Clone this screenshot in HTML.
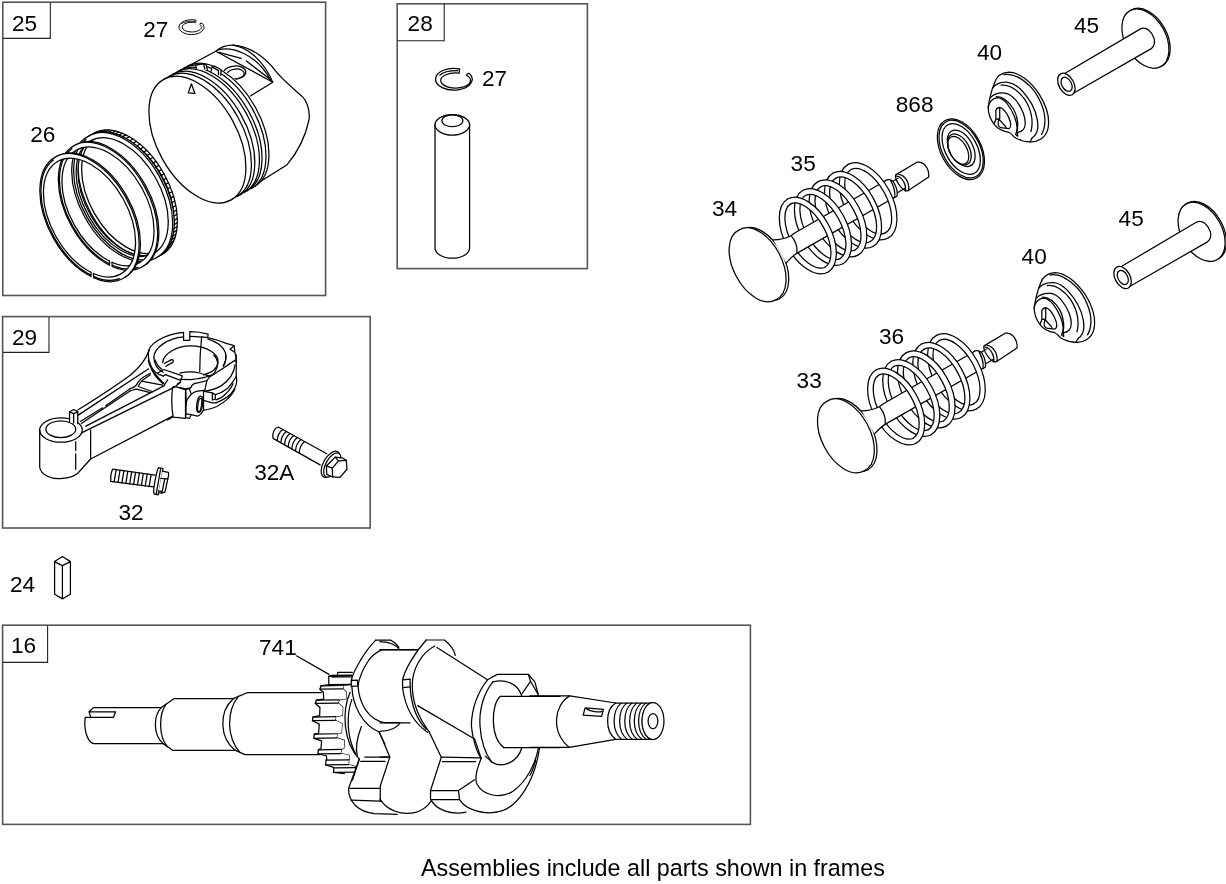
<!DOCTYPE html>
<html><head><meta charset="utf-8"><title>Parts diagram</title>
<style>
html,body{margin:0;padding:0;background:#fff;}
svg{display:block;will-change:transform}
text{font-family:"Liberation Sans",sans-serif;fill:#000}
.f{fill:none;stroke:#555;stroke-width:1.6}
.lb{fill:none;stroke:#222;stroke-width:1.1}
.p{fill:none;stroke:#000;stroke-width:1.25;stroke-linecap:round;stroke-linejoin:round}
.w{fill:#fff;stroke:#000;stroke-width:1.25;stroke-linecap:round;stroke-linejoin:round}
.t{font-size:22.6px}
</style></head><body>
<svg width="1226" height="884" viewBox="0 0 1226 884">
<rect width="1226" height="884" fill="#fff"/>
<!-- 00_frames.svg -->
<g id="frames">
<rect class="f" x="2.8" y="2.2" width="322.8" height="293.3"/>
<path class="lb" d="M50.3 2.5V38.4H3"/>
<rect class="f" x="397.2" y="3.8" width="190.2" height="264.8"/>
<path class="lb" d="M444.2 4V40.8H397.5"/>
<rect class="f" x="2.6" y="316.6" width="367.6" height="211.4"/>
<path class="lb" d="M49 317V352.4H3"/>
<rect class="f" x="2.6" y="625.2" width="747.8" height="199.2"/>
<path class="lb" d="M47.6 625.5V662.4H3"/>
</g>
<g id="labels" class="t">
<text x="12" y="31">25</text>
<text x="407.6" y="30.6">28</text>
<text x="12" y="345">29</text>
<text x="11" y="653">16</text>
<text x="10" y="592">24</text>
<text x="421" y="876" style="font-size:23.32px">Assemblies include all parts shown in frames</text>
</g>

<!-- 01_labels.svg -->
<g id="labels2" class="t">
<text x="143.2" y="36.8">27</text>
<text x="30.2" y="141.8">26</text>
<text x="482" y="86.2">27</text>
<text x="118.4" y="520">32</text>
<text x="254.2" y="480.2">32A</text>
<text x="259" y="654.8">741</text>
<text x="712" y="215.6">34</text>
<text x="790.6" y="171.4">35</text>
<text x="895.8" y="112">868</text>
<text x="977" y="60.4">40</text>
<text x="1074" y="33.2">45</text>
<text x="1118.6" y="226.4">45</text>
<text x="1021.6" y="263.6">40</text>
<text x="879" y="343.6">36</text>
<text x="796.6" y="388">33</text>
</g>

<!-- 10_f28.svg -->
<g id="f28" class="p">
<path d="M459.6 68.9A18.3 10.9 0 1 0 469.8 73.9Q468.2 72.5 466.5 75.3A14.9 7.6 0 1 1 459.1 73.1Z"/>
<path d="M439.8 75.1Q444.2 70.5 457.8 70.5"/>
<ellipse cx="452.3" cy="124.85" rx="17.3" ry="10.25"/>
<ellipse cx="452.4" cy="120.75" rx="10.5" ry="5.95"/>
<path d="M435 124.85V248A17.3 10.2 0 0 0 469.6 248V124.85"/>
</g>

<!-- 20_piston.svg -->
<g id="piston" class="p">
<path d="M231.1 199.8L287.1 164.7C297 153 305.5 136 309 120C310.5 108 305 99 302.8 97.1C296 91 283 80 275.7 71.1C266 58 250 46 233.1 45.1C226 45 220 47.5 215.8 51.2L163.7 79.4"/>
<path d="M215.8 51.2L272.8 82.2L250.4 96"/>
<path d="M233.1 45.1C246 47 262 58 272.8 82.2"/>
<path d="M217.8 49.9C230 46.5 256 52 270.8 80.7"/>
<path d="M218.9 52.4L241.2 58.4M246.3 61L270.4 79.4"/>
<ellipse cx="234.6" cy="72.6" rx="11.2" ry="6.6" transform="rotate(-4 234.6 72.6)"/>
<ellipse cx="235.6" cy="74" rx="8.6" ry="5"  transform="rotate(-4 235.6 74)"/>
<ellipse cx="221.6" cy="126.1" rx="69" ry="40" transform="rotate(60.8 221.6 126.1)" style="fill:#fff;stroke:none"/>
<path d="M169.8 76.0A69 40 60.8 0 1 237.2 196.4"/>
<path d="M172.6 74.4A69 40 60.8 0 1 240.0 194.9"/>
<path d="M177.3 71.8A69 40 60.8 0 1 244.6 192.3"/>
<path d="M179.9 70.3A69 40 60.8 0 1 247.2 190.8"/>
<path d="M183.8 68.1A69 40 60.8 0 1 251.1 188.6"/>
<path d="M187.9 65.9A69 40 60.8 0 1 255.2 186.3"/>
<ellipse class="w" cx="197.4" cy="139.6" rx="69" ry="40" transform="rotate(60.8 197.4 139.6)"/>
<path d="M191.4 83.8L188.3 92.9L194.9 93.4Z"/>
<path class="w" d="M196.5 69.2L195.6 65.2L203.6 63.8L206.1 64.6L207.4 70.2"/>
<path d="M203.6 63.8L204.8 69"/>
<path class="w" d="M211 71.6L212.2 66.9L214.8 66.2L220.9 69.7V75.4"/>
<path d="M212.2 66.9L218.4 70.6L218.6 74.6"/>
</g>
<!-- 21_rings.svg -->
<g id="rings" class="p">
<path class="w" fill-rule="evenodd" d="M161.6 254.7A69.5 41.5 60.8 1 1 93.8 133.3A69.5 41.5 60.8 1 1 161.6 254.7ZM159.2 250.3A64.5 38.5 60.8 1 1 96.2 137.7A64.5 38.5 60.8 1 1 159.2 250.3Z"/>
<path class="w" fill-rule="evenodd" d="M158.6 256.4A69.5 41.5 60.8 1 1 90.7 135.0A69.5 41.5 60.8 1 1 158.6 256.4ZM156.1 252.0A64.5 38.5 60.8 1 1 93.2 139.4A64.5 38.5 60.8 1 1 156.1 252.0Z"/>
<path d="M93.3 133.8L96.4 132.1M96.2 132.8L99.2 131.1M99.2 132.1L102.2 130.4M102.3 131.8L105.3 130.1M105.5 131.8L108.5 130.1M108.8 132.1L111.9 130.4M112.2 132.8L115.3 131.0M115.7 133.7L118.7 132.0M119.2 135.0L122.3 133.3M122.7 136.6L125.8 134.9M126.3 138.5L129.3 136.8M129.8 140.7L132.9 139.0M133.3 143.2L136.4 141.4M136.8 145.9L139.9 144.2M140.2 148.9L143.3 147.2M143.5 152.1L146.6 150.4M146.8 155.6L149.8 153.9M149.9 159.2L153.0 157.5M152.9 163.1L155.9 161.4M155.7 167.1L158.8 165.4M158.4 171.3L161.5 169.6M160.9 175.6L164.0 173.9M163.3 180.0L166.3 178.3M165.4 184.4L168.4 182.7M167.3 189.0L170.4 187.3M169.0 193.5L172.1 191.8M170.5 198.1L173.5 196.4M171.7 202.7L174.8 201.0M172.7 207.2L175.8 205.5M173.5 211.7L176.5 210.0M174.0 216.0L177.0 214.3M174.2 220.3L177.3 218.6M174.2 224.5L177.3 222.8M174.0 228.5L177.0 226.8M173.5 232.3L176.5 230.6M172.7 236.0L175.8 234.3M171.7 239.4L174.8 237.7M170.5 242.7L173.5 241.0M169.0 245.7L172.0 243.9M167.3 248.4L170.3 246.7M165.3 250.8L168.4 249.1M163.2 253.0L166.3 251.3M160.9 254.9L163.9 253.2"/>
<path class="w" fill-rule="evenodd" d="M156.1 257.7A69.5 41.5 60.8 1 1 88.3 136.4A69.5 41.5 60.8 1 1 156.1 257.7ZM153.7 253.4A64.5 38.5 60.8 1 1 90.7 140.8A64.5 38.5 60.8 1 1 153.7 253.4Z"/>
<path d="M152.3 258.1A68.2 40.6 60.8 0 1 86.0 139.5"/>
<path d="M76.2 144.5A69.5 41.5 60.8 0 1 144.0 265.8"/>
<path class="w" fill-rule="evenodd" d="M141.9 267.0A69.5 41.5 60.8 1 1 74.1 145.6A69.5 41.5 60.8 1 1 141.9 267.0ZM139.5 262.6A64.5 38.5 60.8 1 1 76.5 150.0A64.5 38.5 60.8 1 1 139.5 262.6Z"/>
<path d="M138.1 267.3A68.2 40.6 60.8 0 1 71.8 148.7"/>
<path style="fill:#fff;stroke:none" d="M112.0 267.6L109.4 266.5L109.8 259.9L112.0 260.9Z"/>
<path d="M112.2 266.5L111.9 262.1"/>
<path d="M109.6 265.3L109.5 261.0"/>
<path d="M57.7 155.8A69.5 41.5 60.8 0 1 125.5 277.1"/>
<path class="w" fill-rule="evenodd" d="M123.4 278.3A69.5 41.5 60.8 1 1 55.6 156.9A69.5 41.5 60.8 1 1 123.4 278.3ZM121.0 273.9A64.5 38.5 60.8 1 1 58.0 161.3A64.5 38.5 60.8 1 1 121.0 273.9Z"/>
<path d="M119.6 278.6A68.2 40.6 60.8 0 1 53.3 160.0"/>
<path style="fill:#fff;stroke:none" d="M93.5 278.9L90.9 277.8L91.3 271.2L93.5 272.2Z"/>
<path d="M93.7 277.8L93.4 273.4"/>
<path d="M91.1 276.6L91.0 272.3"/>
</g>
<!-- 22_clip.svg -->
<g id="clip25" class="p" style="stroke-width:1">
<path d="M195.6 20.1A12.5 7.45 0 1 0 202.3 23.4Q201.2 22.3 199.6 24.2A9.6 4.9 0 1 1 195.3 22.5Z"/>
<path d="M181.3 23.6Q185 21 194.8 21.3" style="stroke-width:.8"/>
</g>

<!-- 30_rod.svg -->
<g id="rod" class="p">
<!-- small end + beam, coords from zoom origin(30,320) scale 5.359 -->
<g transform="translate(30 320) scale(0.18660)" style="stroke-width:6.7">
<path style="fill:#fff;stroke:none" d="M52,590V790C60,830 110,852 160,850C215,848 255,830 275,800L325,745L765,515L762,360L640,200C560,250 400,380 256,480L212,492C120,500 55,540 52,590Z"/>
<path d="M52,590V790C60,830 110,852 160,850C215,848 255,830 275,800L325,745L765,515"/>
<ellipse cx="166" cy="590" rx="114" ry="65"/>
<ellipse cx="165" cy="585" rx="80" ry="45"/>
<path d="M245,652V700M245,718V800M325,590V745"/>
<path class="w" style="stroke-width:6.7" d="M212,548V492L234,480L256,492V556"/>
<path d="M212,492L234,502L256,492M234,502V552"/>
</g>
<!-- beam, coords from zoom origin(65,350) scale 9.825 -->
<g transform="translate(65 350) scale(0.10178)" style="stroke-width:12.3">
<path d="M125,590C300,480 520,340 650,240C740,165 800,80 828,0"/>
<path d="M130,640L822,185"/>
<path d="M150,702L370,568M400,547L639,380"/>
<path d="M160,722L639,402"/>
<path d="M205,748L972,352L1009,292"/>
<path d="M168,812L1075,365L1132,320"/>
</g>
<!-- junction, coords from zoom origin(130,360) scale 14.73 -->
<g transform="translate(130 360) scale(0.067873)" style="stroke-width:18.4">
<path d="M0,420C50,410 80,395 100,360C115,320 130,300 200,250L300,195"/>
<path d="M120,390C135,350 150,325 190,295L300,218M120,390L335,468M170,312L480,370"/>
<path d="M0,455C40,445 70,430 95,430L300,482"/>
<path d="M270,0C275,80 330,180 500,345M300,90C330,190 400,280 490,352M370,0C390,60 430,110 470,135"/>
<path d="M410,190L500,140L770,235L740,330L700,350M440,215L490,240L520,215M520,215L745,300"/>
<path d="M640,390L820,425L884,415M630,400C610,500 610,700 635,840M820,430C830,550 830,700 820,840M550,884L635,840L820,860"/>
</g>
<!-- big end, coords from zoom origin(140,325) scale 8.838 -->
<g transform="translate(140 325) scale(0.11315)" style="stroke-width:11.0">
<path d="M72,250C75,170 200,85 385,65V135H440V58C500,58 560,68 602,80L598,112C660,125 720,145 762,162L832,182L838,240C848,270 852,300 850,330"/>
<path d="M830,185L796,215L836,240"/>
<path d="M122,285C125,200 250,115 385,105M440,100C480,100 520,104 545,108M548,104L598,112M600,125C680,150 750,200 760,270C762,310 750,340 735,362"/>
<path d="M72,250C72,330 110,410 170,440"/>
<path d="M122,285C125,350 160,395 205,418"/>
<path d="M200,330C210,250 330,185 440,185C600,185 700,260 690,330C685,380 640,420 560,440"/>
<path d="M545,105C535,200 528,300 528,412"/>
<path d="M215,340L278,306Q300,305 292,328L228,365"/>
</g>
<!-- cap, coords from zoom origin(180,355) scale 13.6 -->
<g transform="translate(180 355) scale(0.07353)" style="stroke-width:17.0">
<path d="M0,245C80,228 200,230 265,245C310,255 350,272 400,290"/>
<path d="M460,0C520,60 530,150 470,240C430,290 300,318 150,335L0,330"/>
<path d="M620,0C628,60 615,110 590,150"/>
<path d="M755,70C640,140 520,230 400,300L365,350L340,470L320,500"/>
<path d="M150,440C160,400 200,385 240,380L365,350"/>
<path d="M0,450L75,470L130,455L150,440M130,455C135,490 140,510 150,520M75,470V850M75,850L130,862L150,812"/>
<path d="M80,660C100,580 150,520 220,495L320,480V740C310,780 270,825 240,830L150,810L80,800"/>
<ellipse cx="268" cy="670" rx="40" ry="112" transform="rotate(8 268 670)"/>
<ellipse cx="268" cy="680" rx="24" ry="92" transform="rotate(8 268 680)"/>
<path d="M765,0V290C770,320 772,340 770,360"/>
<path d="M750,130C735,250 660,350 560,420C480,465 400,485 330,490"/>
<path d="M765,290C740,340 700,400 640,460C590,500 530,530 480,540"/>
<path d="M770,360C770,400 740,470 690,530C620,600 540,630 490,650"/>
<path d="M720,390C700,440 640,520 560,580L490,610"/>
<path d="M745,470C700,560 620,640 500,700C440,725 380,745 320,750"/>
<path d="M330,495L440,515L480,540V600L440,612V530M330,620L440,650L490,650"/>
</g>
</g>

<!-- 31_bolts.svg -->
<g id="bolts" class="p">
<g transform="translate(105 460) scale(0.05711)" style="stroke-width:21.9">
<path d="M130,160L880,265M100,375L850,470M130,160C105,220 92,300 100,375"/>
<path d="M195,170L160,383M263,180L228,392M331,189L296,402M399,199L364,412M467,208L432,421M535,218L500,430M603,228L568,440M671,237L636,450M739,247L704,459M807,256L772,468"/>
<path class="w" style="stroke-width:21.9" d="M935,135L1015,150C1000,260 965,480 930,610L862,596C845,560 850,500 870,400C890,280 910,180 935,135Z"/>
<path d="M975,145C955,280 915,480 895,603"/>
<path class="w" style="stroke-width:21.9" d="M1003,195L1110,215L1115,262L1050,562L990,582L936,570"/>
<path d="M975,322L1100,332M1045,330L1000,565M936,540L990,550L990,582"/>
</g>
<g transform="translate(265 420) scale(0.07353)" style="stroke-width:17.0">
<path d="M840,460L180,95C130,110 92,180 110,250L750,610"/>
<path d="M240,128Q172,178 165,281M290,156Q222,206 215,309M340,183Q272,234 265,337M390,211Q322,262 315,365M440,238Q372,290 365,393M490,266Q422,318 415,421M540,294Q472,346 465,449"/>
<ellipse class="w" style="stroke-width:17.0" cx="893" cy="603" rx="196" ry="100" transform="rotate(-61 893 603)"/>
<ellipse class="w" style="stroke-width:17.0" cx="915" cy="612" rx="182" ry="88" transform="rotate(-61 915 612)"/>
<path class="w" style="stroke-width:17.0" d="M835,625L955,505L1060,520L1105,548L1115,670L1020,780L920,775L840,740Z"/>
<path d="M1105,548L1000,557L955,505M1000,557L915,655L835,625M915,655L920,775"/>
</g>
</g>
<!-- 32_key.svg -->
<g id="key" class="p">
<path d="M62.4 556.5L54.6 561.6V594.2L62.4 598.9L70.4 594.2V561.6ZM54.6 561.6L62.4 565.6L70.4 561.6M62.4 565.6V598.9"/>
</g>

<!-- 40_crank_shaft.svg -->
<g id="crank" class="p">
<path d="M296.4 655.8L329 674.4"/>
<g transform="translate(70 680) scale(0.21209)" style="stroke-width:5.9">
<path d="M430,130H110L90,150L98,176H205L215,150H90M98,176H72C64,230 80,290 110,300H440"/>
<path d="M430,130C392,170 392,262 440,300M452,115C418,165 418,265 458,313"/>
<path d="M430,130L490,88H770M440,300L485,332H780"/>
<path d="M770,88C700,150 705,275 780,332M795,76C735,150 740,270 800,340"/>
<path d="M770,88L835,60H1185M780,332L825,352H1175"/>
</g>
<g transform="translate(530 680) scale(0.12235)" style="stroke-width:10.2">
<path d="M0,130H325L700,188H1000M0,550H320L700,485H1000"/>
<path d="M325,130C200,200 165,420 320,550"/>
<path d="M700,188C615,240 610,420 700,485"/>
<path d="M745,189C670,250 665,420 750,486M790,189C715,250 710,420 795,486M832,189C757,250 752,420 837,486M872,189C797,250 792,420 877,486M910,189C835,250 830,420 915,486M945,189C870,250 865,420 950,486M975,189C900,250 895,420 980,486"/>
<ellipse class="w" style="stroke-width:10.2" cx="1005" cy="336" rx="90" ry="151"/>
<ellipse cx="1005" cy="336" rx="40" ry="62"/>
<path d="M450,228L600,240L585,298L435,288ZM462,236C500,262 560,264 592,256"/>
</g>
</g>
<!-- 41_crank_web.svg -->
<g id="crankweb" class="p">
<g transform="translate(305 660) scale(0.13582)" style="stroke-width:9.2">
<clipPath id="gclip"><path d="M0,0H352V150L334,236C272,380 282,600 400,730L350,884H0Z"/></clipPath>
<g clip-path="url(#gclip)">
<path d="M343,117L343,179L286,187L278,212L303,235L306,285L251,293L244,317L278,347L276,407L226,417L223,444L273,469L268,537L236,543L233,574L290,592L286,649L266,658L263,689L326,702L328,729L323,735L320,770L378,787L380,792L378,825L458,833"/>
<path style="fill:#fff;stroke:none" d="M175,120L175,182L118,190L110,215L135,238L138,288L83,296L76,320L110,350L108,410L58,420L55,447L105,472L100,540L68,546L65,577L122,595L118,652L98,661L95,692L158,705L160,732L155,738L152,773L210,790L212,795L210,828L290,836L458,833L458,833L378,825L380,792L378,787L320,770L323,735L328,729L326,702L263,689L266,658L286,649L290,592L233,574L236,543L268,537L273,469L223,444L226,417L276,407L278,347L244,317L251,293L306,285L303,235L278,212L286,187L343,179L343,117Z"/>
<path d="M240,118V92H352"/>
<path style="fill:#666;stroke:none" d="M195,114L342,111L342,131L195,133Z"/>
<path d="M175,120L343,117M175,182L343,179M118,190L286,187M110,215L278,212M83,296L251,293M76,320L244,317M58,420L226,417M55,447L223,444M68,546L236,543M65,577L233,574M98,661L266,658M95,692L263,689M155,738L323,735M152,773L320,770M212,795L380,792M210,828L378,825"/>
<path d="M343,117L343,179L286,187L278,212L303,235L306,285L251,293L244,317L278,347L276,407L226,417L223,444L273,469L268,537L236,543L233,574L290,592L286,649L266,658L263,689L326,702L328,729L323,735L320,770L378,787L380,792L378,825L458,833" style="opacity:0"/>
<path d="M175,120L175,182L118,190L110,215L135,238L138,288L83,296L76,320L110,350L108,410L58,420L55,447L105,472L100,540L68,546L65,577L122,595L118,652L98,661L95,692L158,705L160,732L155,738L152,773L210,790L212,795L210,828L290,836"/>
<path d="M175,120L195,114L345,112"/>
</g>
<path d="M332,238C270,380 280,600 400,730"/>
<path d="M345,290C305,400 305,560 372,690"/>
<path d="M410,0C380,50 350,110 340,150V195M340,150L385,148L390,190L345,195"/>
<path d="M470,0C430,60 400,120 390,190"/>
<path d="M345,195C350,330 420,480 545,530L589,620"/>
<path d="M390,190C400,330 470,440 589,462"/>
<path d="M415,490C385,570 370,650 385,705"/>
<path d="M440,715H589M410,747H589"/>
<path d="M400,730L350,884"/>
</g>
<g transform="translate(300 630) scale(0.22614)" style="stroke-width:5.5">
<path d="M335,45H400C420,55 430,65 437,78"/>
<path d="M335,45C310,70 285,105 268,133"/>
<path d="M360,88C335,100 318,115 304,133"/>
<path d="M360,88H520"/>
<path d="M376,410H440"/>
<path d="M350,450L397,562L355,690V758"/>
<path d="M262,571L215,700C212,760 260,805 330,812L430,815"/>
<path d="M220,700H355M225,752L355,757"/>
<path d="M376,562H397"/>
</g>
<g transform="translate(380 640) scale(0.21505)" style="stroke-width:5.8">
<path d="M215,0C160,60 115,140 105,185V222M105,185L140,182V218L105,222"/>
<path d="M105,222C115,300 150,380 222,430"/>
<path d="M255,28C190,60 150,140 150,210C150,300 185,370 230,428"/>
<path d="M140,218C145,300 170,370 215,415"/>
<path d="M215,0H300C325,20 345,45 350,72"/>
<path d="M265,35L500,185M175,305L440,460L470,550"/>
<path d="M0,45H170M0,385H140M0,8C50,10 80,28 90,45M0,425C50,425 85,402 95,385"/>
<path d="M230,430L285,545L235,700V740C260,790 330,815 400,800"/>
<path d="M285,545L470,548M290,565H445M235,700H365M240,742H368"/>
<path d="M365,700L440,650M365,700L370,742C400,790 480,812 540,800"/>
<path d="M0,545H45M0,740C30,790 100,820 170,800C200,790 225,770 240,745"/>
<path d="M500,185L545,160H690L720,195L735,250V262"/>
<path d="M500,185C455,240 425,320 425,400C430,460 450,520 470,550"/>
<path d="M525,195C480,250 460,330 465,400C470,470 490,530 520,568"/>
<path d="M690,160L700,192L660,250M700,192L735,252"/>
<path d="M525,195C580,180 640,200 660,262"/>
<path d="M560,262C515,300 512,450 575,500"/>
<path d="M660,500C640,570 570,598 520,568L490,540"/>
<path d="M470,552C450,600 440,650 452,672C480,722 560,742 620,702C680,660 722,580 737,500"/>
<path d="M540,800C640,790 722,650 742,500"/>
<path d="M724,558C716,590 708,612 697,630"/>
<path d="M560,262H837M575,500H837"/>
</g>
</g>
<!-- 50_valves.svg -->
<g id="valve34" class="p">
<path class="w" d="M779.4 298.9A39.44 23.31 62.3 1 1 742.8 229.0A39.44 23.31 62.3 1 1 779.4 298.9Z"/>
<path class="w" d="M775.9 299.7A39.44 23.31 62.3 1 1 739.3 229.9A39.44 23.31 62.3 1 1 775.9 299.7Z"/>
<path style="fill:#fff;stroke:none" d="M888.1 238.0A41.82 23.66 61.5 0 1 848.2 164.4L851.0 169.5A36.04 18.23 61.5 0 0 885.4 232.9Z"/>
<path d="M888.1 238.0A41.82 23.66 61.5 0 1 848.2 164.4M851.0 169.5A36.04 18.23 61.5 0 0 885.4 232.9"/>
<path style="fill:#fff;stroke:none" d="M873.0 246.5A41.82 23.66 61.5 0 1 833.1 173.0L835.9 178.1A36.04 18.23 61.5 0 0 870.3 241.5Z"/>
<path d="M873.0 246.5A41.82 23.66 61.5 0 1 833.1 173.0M835.9 178.1A36.04 18.23 61.5 0 0 870.3 241.5"/>
<path style="fill:#fff;stroke:none" d="M858.0 255.1A41.82 23.66 61.5 0 1 818.0 181.6L820.8 186.7A36.04 18.23 61.5 0 0 855.2 250.0Z"/>
<path d="M858.0 255.1A41.82 23.66 61.5 0 1 818.0 181.6M820.8 186.7A36.04 18.23 61.5 0 0 855.2 250.0"/>
<path style="fill:#fff;stroke:none" d="M842.9 263.7A41.82 23.66 61.5 0 1 803.0 190.2L805.7 195.3A36.04 18.23 61.5 0 0 840.1 258.6Z"/>
<path d="M842.9 263.7A41.82 23.66 61.5 0 1 803.0 190.2M805.7 195.3A36.04 18.23 61.5 0 0 840.1 258.6"/>
<path style="fill:#fff;stroke:none" d="M827.8 272.3A41.82 23.66 61.5 0 1 787.9 198.8L790.7 203.9A36.04 18.23 61.5 0 0 825.1 267.2Z"/>
<path d="M827.8 272.3A41.82 23.66 61.5 0 1 787.9 198.8M790.7 203.9A36.04 18.23 61.5 0 0 825.1 267.2"/>
<path style="fill:#fff;stroke:none" d="M773.4 239.9C780.2 239.9 785.5 238.5 791.3 235.5L795.1 232.7L885.2 181.0L894.3 197.5L797.2 253.1C793.0 255.5 789.2 259.6 786.2 262.9Z"/>
<path d="M773.4 239.9C780.2 239.9 785.5 238.5 791.3 235.5L795.1 232.7L885.2 181.0M894.3 197.5L797.2 253.1C793.0 255.5 789.2 259.6 786.2 262.9"/>
<path d="M791.3 235.9C795.5 241.1 797.6 247.3 796.9 252.5"/>
<path class="w" d="M895.7 174.9L916.9 162.2C923.3 160.9 929.6 168.1 928.7 177.1L907.9 190.7C903.3 192.5 894.3 179.9 895.7 174.9Z"/>
<path d="M898.8 174.3C905.2 175.3 909.7 182.6 908.6 190.4"/>
<path d="M896.6 176.2C902.4 177.1 906.5 184.4 905.3 190.9"/>
<path d="M892.9 181.2L897.9 178.2M897.9 192.5L904.7 188.5"/>
<path style="fill:#fff;stroke:none" d="M885.2 180.8C887.1 178.8 891.1 179.4 893.4 181.7C896.1 186.2 897.9 191.6 897.0 196.2L894.3 197.8L885.2 180.8Z"/>
<path d="M885.2 180.8C887.1 178.8 891.1 179.4 893.4 181.7C896.1 186.2 897.9 191.6 897.0 196.2L894.3 197.8"/>
<path d="M890.7 180.6C893.8 186.2 895.4 191.6 894.8 197.4"/>
<path style="fill:#fff;stroke:none" d="M848.2 164.4A41.82 23.66 61.5 0 1 888.1 238.0L885.4 232.9A36.04 18.23 61.5 0 0 851.0 169.5Z"/>
<path d="M848.2 164.4A41.82 23.66 61.5 0 1 888.1 238.0M885.4 232.9A36.04 18.23 61.5 0 0 851.0 169.5"/>
<path style="fill:#fff;stroke:none" d="M833.1 173.0A41.82 23.66 61.5 0 1 873.0 246.5L870.3 241.5A36.04 18.23 61.5 0 0 835.9 178.1Z"/>
<path d="M833.1 173.0A41.82 23.66 61.5 0 1 873.0 246.5M870.3 241.5A36.04 18.23 61.5 0 0 835.9 178.1"/>
<path style="fill:#fff;stroke:none" d="M818.0 181.6A41.82 23.66 61.5 0 1 858.0 255.1L855.2 250.0A36.04 18.23 61.5 0 0 820.8 186.7Z"/>
<path d="M818.0 181.6A41.82 23.66 61.5 0 1 858.0 255.1M855.2 250.0A36.04 18.23 61.5 0 0 820.8 186.7"/>
<path style="fill:#fff;stroke:none" d="M803.0 190.2A41.82 23.66 61.5 0 1 842.9 263.7L840.1 258.6A36.04 18.23 61.5 0 0 805.7 195.3Z"/>
<path d="M803.0 190.2A41.82 23.66 61.5 0 1 842.9 263.7M840.1 258.6A36.04 18.23 61.5 0 0 805.7 195.3"/>
<path style="fill:#fff;stroke:none" d="M787.9 198.8A41.82 23.66 61.5 0 1 827.8 272.3L825.1 267.2A36.04 18.23 61.5 0 0 790.7 203.9Z"/>
<path d="M787.9 198.8A41.82 23.66 61.5 0 1 827.8 272.3M825.1 267.2A36.04 18.23 61.5 0 0 790.7 203.9"/>
</g>
<g id="valve33" class="p">
<path class="w" d="M867.7 469.9A39.44 23.31 62.3 1 1 831.1 400.0A39.44 23.31 62.3 1 1 867.7 469.9Z"/>
<path class="w" d="M864.2 470.7A39.44 23.31 62.3 1 1 827.6 400.9A39.44 23.31 62.3 1 1 864.2 470.7Z"/>
<path style="fill:#fff;stroke:none" d="M976.4 409.0A41.82 23.66 61.5 0 1 936.5 335.4L939.3 340.5A36.04 18.23 61.5 0 0 973.7 403.9Z"/>
<path d="M976.4 409.0A41.82 23.66 61.5 0 1 936.5 335.4M939.3 340.5A36.04 18.23 61.5 0 0 973.7 403.9"/>
<path style="fill:#fff;stroke:none" d="M961.3 417.5A41.82 23.66 61.5 0 1 921.4 344.0L924.2 349.1A36.04 18.23 61.5 0 0 958.6 412.5Z"/>
<path d="M961.3 417.5A41.82 23.66 61.5 0 1 921.4 344.0M924.2 349.1A36.04 18.23 61.5 0 0 958.6 412.5"/>
<path style="fill:#fff;stroke:none" d="M946.3 426.1A41.82 23.66 61.5 0 1 906.3 352.6L909.1 357.7A36.04 18.23 61.5 0 0 943.5 421.0Z"/>
<path d="M946.3 426.1A41.82 23.66 61.5 0 1 906.3 352.6M909.1 357.7A36.04 18.23 61.5 0 0 943.5 421.0"/>
<path style="fill:#fff;stroke:none" d="M931.2 434.7A41.82 23.66 61.5 0 1 891.3 361.2L894.0 366.3A36.04 18.23 61.5 0 0 928.4 429.6Z"/>
<path d="M931.2 434.7A41.82 23.66 61.5 0 1 891.3 361.2M894.0 366.3A36.04 18.23 61.5 0 0 928.4 429.6"/>
<path style="fill:#fff;stroke:none" d="M916.1 443.3A41.82 23.66 61.5 0 1 876.2 369.8L879.0 374.9A36.04 18.23 61.5 0 0 913.4 438.2Z"/>
<path d="M916.1 443.3A41.82 23.66 61.5 0 1 876.2 369.8M879.0 374.9A36.04 18.23 61.5 0 0 913.4 438.2"/>
<path style="fill:#fff;stroke:none" d="M861.7 410.9C868.5 410.9 873.8 409.5 879.6 406.5L883.4 403.7L973.5 352.0L982.6 368.5L885.5 424.1C881.3 426.5 877.5 430.6 874.5 433.9Z"/>
<path d="M861.7 410.9C868.5 410.9 873.8 409.5 879.6 406.5L883.4 403.7L973.5 352.0M982.6 368.5L885.5 424.1C881.3 426.5 877.5 430.6 874.5 433.9"/>
<path d="M879.6 406.9C883.8 412.1 885.9 418.3 885.2 423.5"/>
<path class="w" d="M984.0 345.9L1005.2 333.2C1011.6 331.9 1017.9 339.1 1017.0 348.1L996.2 361.7C991.6 363.5 982.6 350.9 984.0 345.9Z"/>
<path d="M987.1 345.3C993.5 346.3 998.0 353.6 996.9 361.4"/>
<path d="M984.9 347.2C990.7 348.1 994.8 355.4 993.6 361.9"/>
<path d="M981.2 352.2L986.2 349.2M986.2 363.5L993.0 359.5"/>
<path style="fill:#fff;stroke:none" d="M973.5 351.8C975.4 349.8 979.4 350.4 981.7 352.7C984.4 357.2 986.2 362.6 985.3 367.2L982.6 368.8L973.5 351.8Z"/>
<path d="M973.5 351.8C975.4 349.8 979.4 350.4 981.7 352.7C984.4 357.2 986.2 362.6 985.3 367.2L982.6 368.8"/>
<path d="M979.0 351.6C982.1 357.2 983.7 362.6 983.1 368.4"/>
<path style="fill:#fff;stroke:none" d="M936.5 335.4A41.82 23.66 61.5 0 1 976.4 409.0L973.7 403.9A36.04 18.23 61.5 0 0 939.3 340.5Z"/>
<path d="M936.5 335.4A41.82 23.66 61.5 0 1 976.4 409.0M973.7 403.9A36.04 18.23 61.5 0 0 939.3 340.5"/>
<path style="fill:#fff;stroke:none" d="M921.4 344.0A41.82 23.66 61.5 0 1 961.3 417.5L958.6 412.5A36.04 18.23 61.5 0 0 924.2 349.1Z"/>
<path d="M921.4 344.0A41.82 23.66 61.5 0 1 961.3 417.5M958.6 412.5A36.04 18.23 61.5 0 0 924.2 349.1"/>
<path style="fill:#fff;stroke:none" d="M906.3 352.6A41.82 23.66 61.5 0 1 946.3 426.1L943.5 421.0A36.04 18.23 61.5 0 0 909.1 357.7Z"/>
<path d="M906.3 352.6A41.82 23.66 61.5 0 1 946.3 426.1M943.5 421.0A36.04 18.23 61.5 0 0 909.1 357.7"/>
<path style="fill:#fff;stroke:none" d="M891.3 361.2A41.82 23.66 61.5 0 1 931.2 434.7L928.4 429.6A36.04 18.23 61.5 0 0 894.0 366.3Z"/>
<path d="M891.3 361.2A41.82 23.66 61.5 0 1 931.2 434.7M928.4 429.6A36.04 18.23 61.5 0 0 894.0 366.3"/>
<path style="fill:#fff;stroke:none" d="M876.2 369.8A41.82 23.66 61.5 0 1 916.1 443.3L913.4 438.2A36.04 18.23 61.5 0 0 879.0 374.9Z"/>
<path d="M876.2 369.8A41.82 23.66 61.5 0 1 916.1 443.3M913.4 438.2A36.04 18.23 61.5 0 0 879.0 374.9"/>
</g>
<!-- 51_small.svg -->
<g id="small" class="p">
<ellipse class="w" cx="960.9" cy="149.2" rx="32.8" ry="20.0" transform="rotate(61.3 960.9 149.2)"/>
<ellipse cx="961.1" cy="149.1" rx="31.2" ry="18.6" transform="rotate(61.3 961.1 149.1)"/>
<ellipse cx="961.2" cy="149.0" rx="27.6" ry="15.8" transform="rotate(61.3 961.2 149.0)"/>
<ellipse cx="961.2" cy="148.3" rx="19.8" ry="11.6" transform="rotate(61.3 961.2 148.3)"/>
<ellipse class="w" cx="959.4" cy="149.5" rx="16.8" ry="9.9" transform="rotate(61.3 959.4 149.5)"/>
<ellipse cx="958.3" cy="150.3" rx="15.2" ry="8.6" transform="rotate(61.3 958.3 150.3)"/>
<g transform="translate(980 65) scale(0.09615)" style="stroke-width:13.0">
<path style="fill:#fff;stroke:none" d="M150,190C170,120 220,80 300,75C400,75 520,160 620,310C700,440 730,560 705,670C680,760 600,805 520,800C480,797 440,790 420,780C400,775 380,765 360,752C345,740 330,715 300,700C220,685 180,660 150,620C110,570 85,500 85,440C100,340 120,260 150,190Z"/>
<path d="M150,190C170,120 220,80 300,75C400,75 520,160 620,310C700,440 730,560 705,670C680,760 600,805 520,800C480,797 440,790 420,780"/>
<path d="M250,100C330,85 430,130 530,230C620,330 680,480 675,590C672,650 660,690 640,722"/>
<path d="M130,240C160,200 220,175 290,180C380,190 470,290 540,410C600,520 615,640 590,700C575,735 560,750 540,762"/>
<path d="M220,210C300,200 390,260 460,350C530,450 560,580 530,692"/>
<path d="M110,340C140,305 200,285 260,292C340,305 410,400 450,500C475,570 475,640 450,672C435,690 410,698 390,702"/>
<path d="M170,330C230,330 300,380 350,460C390,530 405,640 380,702"/>
<path d="M85,440C90,390 130,345 180,340C250,340 320,440 360,540C390,620 390,690 370,722"/>
<path d="M150,190C120,260 100,340 85,440C85,500 110,570 150,620C180,660 220,685 300,700C330,715 345,740 360,752C380,765 400,775 420,780"/>
<path d="M165,470C175,450 190,440 205,440C250,450 300,530 315,590C325,630 315,655 300,662L215,652C195,640 185,620 190,600L195,560L165,562ZM205,445V560M195,560L270,645M165,562L150,605"/>
<path d="M370,722L392,740L390,702M540,762L520,800"/>
</g>
<g transform="translate(1026 265.4) scale(0.09615)" style="stroke-width:13.0">
<path style="fill:#fff;stroke:none" d="M150,190C170,120 220,80 300,75C400,75 520,160 620,310C700,440 730,560 705,670C680,760 600,805 520,800C480,797 440,790 420,780C400,775 380,765 360,752C345,740 330,715 300,700C220,685 180,660 150,620C110,570 85,500 85,440C100,340 120,260 150,190Z"/>
<path d="M150,190C170,120 220,80 300,75C400,75 520,160 620,310C700,440 730,560 705,670C680,760 600,805 520,800C480,797 440,790 420,780"/>
<path d="M250,100C330,85 430,130 530,230C620,330 680,480 675,590C672,650 660,690 640,722"/>
<path d="M130,240C160,200 220,175 290,180C380,190 470,290 540,410C600,520 615,640 590,700C575,735 560,750 540,762"/>
<path d="M220,210C300,200 390,260 460,350C530,450 560,580 530,692"/>
<path d="M110,340C140,305 200,285 260,292C340,305 410,400 450,500C475,570 475,640 450,672C435,690 410,698 390,702"/>
<path d="M170,330C230,330 300,380 350,460C390,530 405,640 380,702"/>
<path d="M85,440C90,390 130,345 180,340C250,340 320,440 360,540C390,620 390,690 370,722"/>
<path d="M150,190C120,260 100,340 85,440C85,500 110,570 150,620C180,660 220,685 300,700C330,715 345,740 360,752C380,765 400,775 420,780"/>
<path d="M165,470C175,450 190,440 205,440C250,450 300,530 315,590C325,630 315,655 300,662L215,652C195,640 185,620 190,600L195,560L165,562ZM205,445V560M195,560L270,645M165,562L150,605"/>
<path d="M370,722L392,740L390,702M540,762L520,800"/>
</g>
<ellipse class="w" cx="1146.7" cy="37.9" rx="31.9" ry="20.3" transform="rotate(61.15 1146.7 37.9)"/>
<ellipse class="w" cx="1145.4" cy="38.6" rx="31.9" ry="20.3" transform="rotate(61.15 1145.4 38.6)"/>
<g transform="translate(1050 0) scale(0.11315)" style="stroke-width:11.0">
<path style="fill:#fff;stroke:none" d="M130,650L800,255C850,230 900,280 920,340C930,380 920,410 895,430L215,820Z"/>
<path d="M130,650L800,255C850,230 900,280 920,340C930,380 920,410 895,430L215,820"/>
</g>
<ellipse class="w" cx="1066.4" cy="84.3" rx="11.9" ry="7.5" transform="rotate(61.15 1066.4 84.3)"/>
<ellipse cx="1066.6" cy="84.3" rx="7.6" ry="4.8" transform="rotate(61.15 1066.6 84.3)"/>
<ellipse class="w" cx="1202.9" cy="231.1" rx="31.9" ry="20.3" transform="rotate(61.15 1202.9 231.1)"/>
<ellipse class="w" cx="1201.6" cy="231.8" rx="31.9" ry="20.3" transform="rotate(61.15 1201.6 231.8)"/>
<g transform="translate(1106.2 193.2) scale(0.11315)" style="stroke-width:11.0">
<path style="fill:#fff;stroke:none" d="M130,650L800,255C850,230 900,280 920,340C930,380 920,410 895,430L215,820Z"/>
<path d="M130,650L800,255C850,230 900,280 920,340C930,380 920,410 895,430L215,820"/>
</g>
<ellipse class="w" cx="1122.6" cy="277.5" rx="11.9" ry="7.5" transform="rotate(61.15 1122.6 277.5)"/>
<ellipse cx="1122.8" cy="277.5" rx="7.6" ry="4.8" transform="rotate(61.15 1122.8 277.5)"/>
</g>
</svg>
</body></html>
